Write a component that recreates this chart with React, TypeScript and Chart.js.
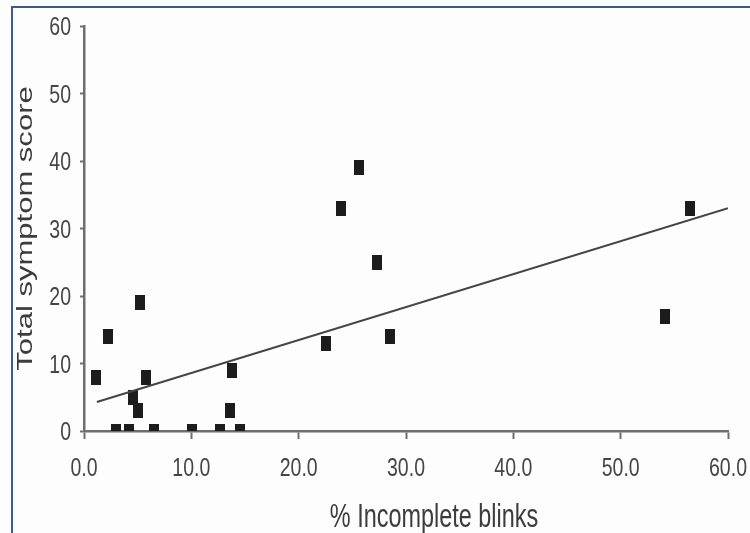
import { useEffect, useRef } from 'react';
import { Chart, registerables } from 'chart.js';

Chart.register(...registerables);

// % incomplete blinks (x) and total symptom score (y) for each subject
const blinkPct = [1.1, 2.2, 3.0, 4.2, 4.6, 5.0, 5.2, 5.8, 6.5, 10.1, 12.7, 13.6, 13.8, 14.5, 22.5, 23.9, 25.6, 27.3, 28.5, 54.1, 56.5];
const symptomScore = [8, 14, 0, 0, 5, 3, 19, 8, 0, 0, 0, 3, 9, 0, 13, 33, 39, 25, 14, 17, 33];

// linear trend line end points
const trendX = [1.2, 60];
const trendY = [4.3, 33.0];

const xTitle = '% Incomplete blinks';
const yTitle = 'Total symptom score';
const axisMin = 0;
const axisMax = 60;
const axisStep = 10;

const FONT = "'Liberation Sans', Arial, sans-serif";
const TEXT_COLOR = '#454545';
const AXIS_COLOR = '#6e6e6e';

export default function App() {
  const ref = useRef<HTMLCanvasElement>(null);

  useEffect(() => {
    const canvas = ref.current;
    if (!canvas) return;

    const marker = document.createElement('canvas');
    marker.width = 10;
    marker.height = 15;
    const mctx = marker.getContext('2d')!;
    mctx.fillStyle = '#1c1c1c';
    mctx.fillRect(0, 0, 10, 15);

    const textPlugin = {
      id: 'axisText',
      afterDraw(chart: any) {
        const { ctx, chartArea, scales } = chart;
        ctx.save();
        ctx.fillStyle = TEXT_COLOR;
        ctx.textBaseline = 'alphabetic';

        // x tick labels
        ctx.font = `25px ${FONT}`;
        ctx.textAlign = 'center';
        scales.x.ticks.forEach((t: any) => {
          ctx.save();
          ctx.translate(scales.x.getPixelForValue(t.value), chartArea.bottom + 45);
          ctx.scale(0.78, 1);
          ctx.fillText(Number(t.value).toFixed(1), 0, 0);
          ctx.restore();
        });

        // y tick labels
        ctx.textAlign = 'right';
        scales.y.ticks.forEach((t: any) => {
          ctx.save();
          ctx.translate(chartArea.left - 13, scales.y.getPixelForValue(t.value) + 9);
          ctx.scale(0.78, 1);
          ctx.fillText(String(t.value), 0, 0);
          ctx.restore();
        });

        ctx.fillStyle = '#3c3c3c';
        ctx.textAlign = 'center';
        // x-axis title
        ctx.save();
        ctx.font = `33px ${FONT}`;
        ctx.translate((chartArea.left + chartArea.right) / 2 + 28, chartArea.bottom + 96);
        ctx.scale(0.71, 1);
        ctx.fillText(xTitle, 0, 0);
        ctx.restore();
        // y-axis title
        ctx.save();
        ctx.font = `22px ${FONT}`;
        ctx.translate(chartArea.left - 52, (chartArea.top + chartArea.bottom) / 2);
        ctx.rotate(-Math.PI / 2);
        ctx.scale(1.41, 1);
        ctx.fillText(yTitle, 0, 0);
        ctx.restore();
        ctx.restore();
      },
    };

    const chart = new Chart(canvas, {
      type: 'scatter',
      data: {
        datasets: [
          {
            label: 'Subjects',
            data: blinkPct.map((x, i) => ({ x, y: symptomScore[i] })),
            pointStyle: marker as any,
            pointRadius: 6,
            pointHoverRadius: 6,
            backgroundColor: '#1c1c1c',
            borderColor: '#1c1c1c',
            order: 2,
          },
          {
            label: 'Trend',
            data: trendX.map((x, i) => ({ x, y: trendY[i] })),
            showLine: true,
            pointRadius: 0,
            borderColor: '#454545',
            borderWidth: 2,
            fill: false,
            order: 1,
          } as any,
        ],
      },
      options: {
        responsive: false,
        animation: false,
        devicePixelRatio: 1,
        layout: { padding: { top: 26, right: 22, bottom: 0, left: 0 } },
        plugins: {
          legend: { display: false },
          tooltip: { enabled: false },
        },
        scales: {
          x: {
            type: 'linear',
            min: axisMin,
            max: axisMax,
            afterFit: (s: any) => { s.height = 102; s.paddingLeft = 0; s.paddingRight = 0; },
            border: { display: true, color: AXIS_COLOR, width: 2.5 },
            grid: { drawOnChartArea: false, drawTicks: true, tickLength: 8, tickColor: AXIS_COLOR, tickWidth: 2 },
            ticks: { stepSize: axisStep, display: false },
          },
          y: {
            type: 'linear',
            min: axisMin,
            max: axisMax,
            afterFit: (s: any) => { s.width = 84; s.paddingTop = 0; s.paddingBottom = 0; },
            border: { display: true, color: AXIS_COLOR, width: 2.5 },
            grid: { drawOnChartArea: false, drawTicks: true, tickLength: 4, tickColor: AXIS_COLOR, tickWidth: 2 },
            ticks: { stepSize: axisStep, display: false },
          },
        },
      },
      plugins: [textPlugin],
    });

    return () => chart.destroy();
  }, []);

  return (
    <div style={{ position: 'fixed', left: 0, top: 0, width: 750, height: 533, background: '#fdfdfd', overflow: 'hidden' }}>
      <div
        style={{
          position: 'absolute',
          left: 11,
          top: 6,
          width: 800,
          height: 600,
          borderLeft: '2px solid #3a5c92',
          borderTop: '2px solid #3a5c92',
        }}
      />
      <canvas ref={ref} width={750} height={533} style={{ position: 'absolute', left: 0, top: 0 }} />
    </div>
  );
}
